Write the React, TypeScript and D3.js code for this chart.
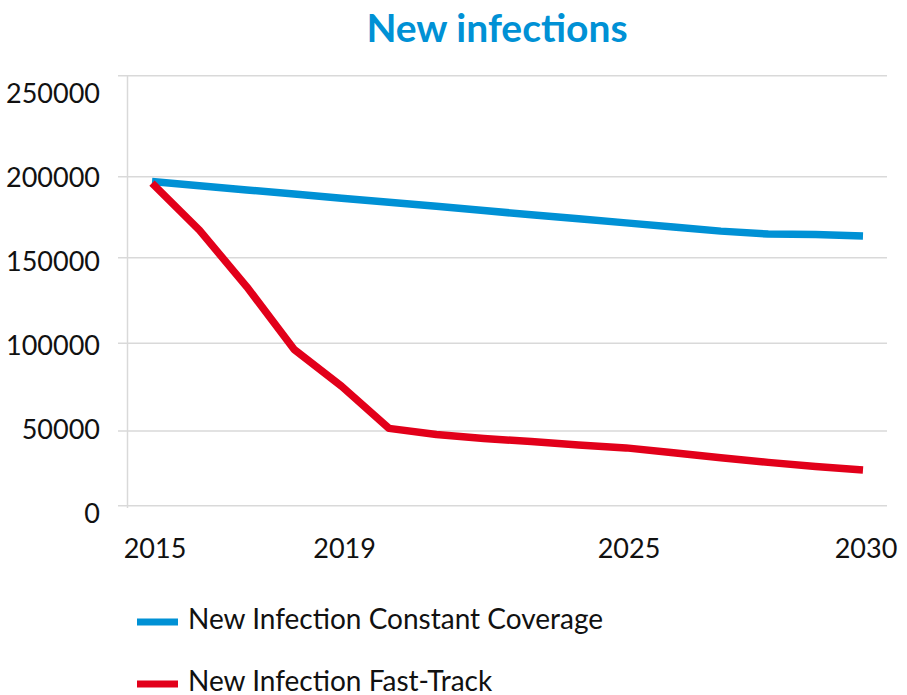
import React from "react";
import * as d3 from "d3";

const years = [2015, 2016, 2017, 2018, 2019, 2020, 2021, 2022, 2023, 2024, 2025, 2026, 2027, 2028, 2029, 2030];
const constantCoverage = [197000, 194400, 191800, 189300, 186700, 184200, 181700, 179100, 176500, 174000, 171500, 169000, 166400, 164600, 164300, 163400];
const fastTrack = [196000, 167000, 133000, 96500, 75500, 51500, 47600, 45000, 42900, 40600, 38700, 35400, 32100, 29000, 26200, 23900];
const yTicks = [0, 50000, 100000, 150000, 200000, 250000];
const xTickLabels = [2015, 2019, 2025, 2030];
const seriesNames = ["New Infection Constant Coverage", "New Infection Fast-Track"];
const title = "New infections";

const W = 907;
const H = 695;
const BLUE = "#0091D5";
const RED = "#E2001A";
const GRID = "#d9d9d9";
const FONT = "Lato, 'Open Sans', sans-serif";

export default function App() {
  const x = d3.scaleLinear().domain([2015, 2030]).range([152, 863]);
  // gridline positions in the reference are slightly uneven
  const y = d3.scaleLinear().domain(yTicks).range([505.7, 431, 343.3, 257.7, 176.7, 75.7]);
  // tick labels in the reference are evenly spaced
  const yLabel = d3.scaleLinear().domain([0, 250000]).range([513, 93]);

  const line = d3
    .line<number>()
    .x((_, i) => x(years[i]))
    .y((d) => y(d))
    .curve(d3.curveLinear);

  const series = [
    { name: seriesNames[0], values: constantCoverage, color: BLUE },
    { name: seriesNames[1], values: fastTrack, color: RED },
  ];

  return (
    <svg
      width={W}
      height={H}
      style={{ position: "absolute", left: 0, top: 0, background: "#fff" }}
      fontFamily={FONT}
    >
      <text x={497} y={42} textAnchor="middle" fill={BLUE} fontSize={39} fontWeight="bold">
        {title}
      </text>
      {yTicks.map((t) => (
        <g key={t}>
          <line x1={118} x2={887} y1={y(t)} y2={y(t)} stroke={GRID} strokeWidth={1.5} />
          <text x={100} y={yLabel(t)} dy="0.36em" textAnchor="end" fontSize={27} fill="#111">
            {t}
          </text>
        </g>
      ))}
      <line x1={127.5} x2={127.5} y1={y(250000)} y2={508} stroke={GRID} strokeWidth={1.5} />
      {xTickLabels.map((t) => (
        <text key={t} x={x(t) + 3} y={558} textAnchor="middle" fontSize={27} fill="#111">
          {t}
        </text>
      ))}
      {series.map((s) => (
        <path
          key={s.name}
          d={line(s.values) || ""}
          fill="none"
          stroke={s.color}
          strokeWidth={7.5}
          strokeLinejoin="round"
        />
      ))}
      {series.map((s, i) => (
        <g key={s.name} transform={`translate(0, ${622 + i * 62})`}>
          <line x1={137} x2={178} y1={0} y2={0} stroke={s.color} strokeWidth={7} />
          <text x={188} y={7} fontSize={28} fill="#111">
            {s.name}
          </text>
        </g>
      ))}
    </svg>
  );
}
